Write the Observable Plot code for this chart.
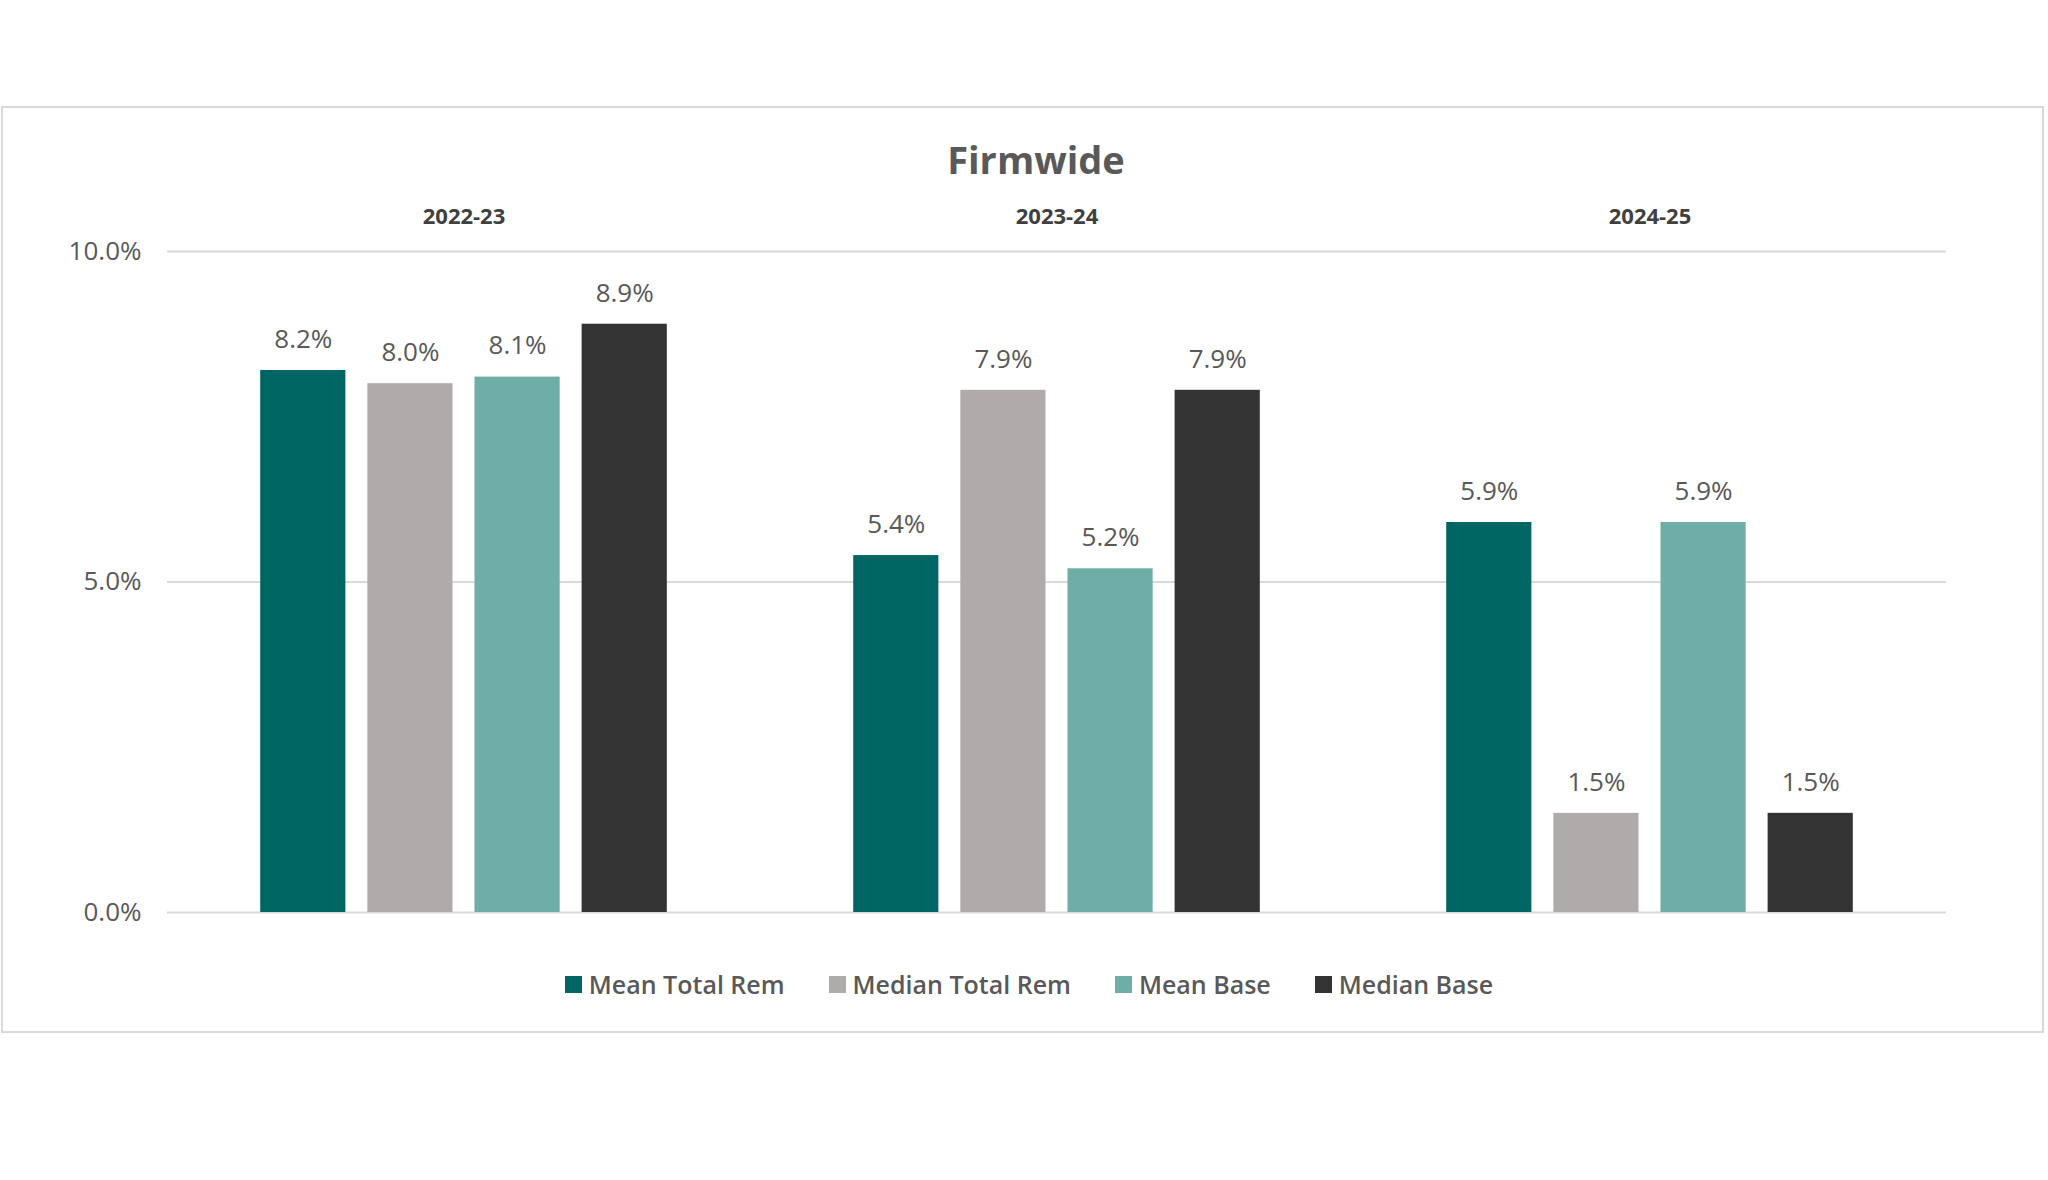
<!DOCTYPE html>
<html>
<head>
<meta charset="utf-8">
<script src="https://cdn.jsdelivr.net/npm/d3@7"></script>
<script src="https://cdn.jsdelivr.net/npm/@observablehq/plot@0.6"></script>
<style>
  html, body { margin: 0; padding: 0; background: #fff; width: 2048px; height: 1180px; overflow: hidden; }
  #box { position: absolute; left: 1px; top: 106px; width: 2043px; height: 927px; box-sizing: border-box; border: 2px solid #d9d9d9; }
  #title { position: absolute; left: 836px; width: 400px; top: 134px; text-align: center; font-family: "Open Sans"; font-weight: 700; font-size: 38px; line-height: 50px; color: #595959; }
  #chart { position: absolute; left: 0; top: 0; }
  #legend { position: absolute; left: 0; width: 2058px; top: 967px; display: flex; justify-content: center; align-items: center; font-family: "Open Sans"; font-weight: 600; font-size: 25px; color: #595959; }
  .item { display: flex; align-items: center; margin: 0 22px; }
  .sw { width: 17px; height: 17px; margin-right: 7px; }
</style>
</head>
<body>
<div id="box"></div>
<div id="chart"></div>
<div id="title">Firmwide</div>
<div id="legend"></div>
<script>
const years = ["2022-23", "2023-24", "2024-25"];
const series = ["Mean Total Rem", "Median Total Rem", "Mean Base", "Median Base"];
const meanTotalRem = [8.2, 5.4, 5.9];
const medianTotalRem = [8.0, 7.9, 1.5];
const meanBase = [8.1, 5.2, 5.9];
const medianBase = [8.9, 7.9, 1.5];
const colors = ["#006663", "#AFABAB", "#6FADA7", "#333333"];
const yTicks = [0, 5, 10];

const valuesBySeries = [meanTotalRem, medianTotalRem, meanBase, medianBase];
const rows = [];
years.forEach((yr, i) => {
  series.forEach((s, j) => rows.push({year: yr, series: s, value: valuesBySeries[j][i]}));
});

const chart = Plot.plot({
  width: 2048,
  height: 940,
  marginLeft: 167,
  marginRight: 102,
  marginTop: 251,
  marginBottom: 28,
  style: {background: "transparent", fontFamily: "Open Sans"},
  fx: {domain: years, padding: 0, axis: null, round: false},
  x: {domain: series, paddingInner: 0.205, paddingOuter: 0.87, axis: null, round: false},
  y: {domain: [0, 10], axis: null},
  color: {domain: series, range: colors},
  marks: [
    Plot.gridY(yTicks, {stroke: "#d9d9d9", strokeOpacity: 1, strokeWidth: 2}),
    Plot.axisY(yTicks, {tickSize: 0, tickPadding: 26, tickFormat: d => d.toFixed(1) + "%", fontSize: 26, fill: "#595959", label: null}),
    Plot.barY(rows, {fx: "year", x: "series", y: "value", fill: "series"}),
    Plot.text(rows, {fx: "year", x: "series", y: "value", text: d => d.value.toFixed(1) + "%", dy: -31, fontSize: 26, fill: "#595959"}),
    Plot.text(years, {fx: d => d, text: d => d, frameAnchor: "top", lineAnchor: "middle", dy: -35, fontSize: 22, fontWeight: "bold", fill: "#404040"})
  ]
});
document.getElementById("chart").appendChild(chart);

const legend = document.getElementById("legend");
series.forEach((s, j) => {
  const item = document.createElement("div");
  item.className = "item";
  const sw = document.createElement("div");
  sw.className = "sw";
  sw.style.background = colors[j];
  const label = document.createElement("span");
  label.textContent = s;
  item.appendChild(sw);
  item.appendChild(label);
  legend.appendChild(item);
});
</script>
</body>
</html>
